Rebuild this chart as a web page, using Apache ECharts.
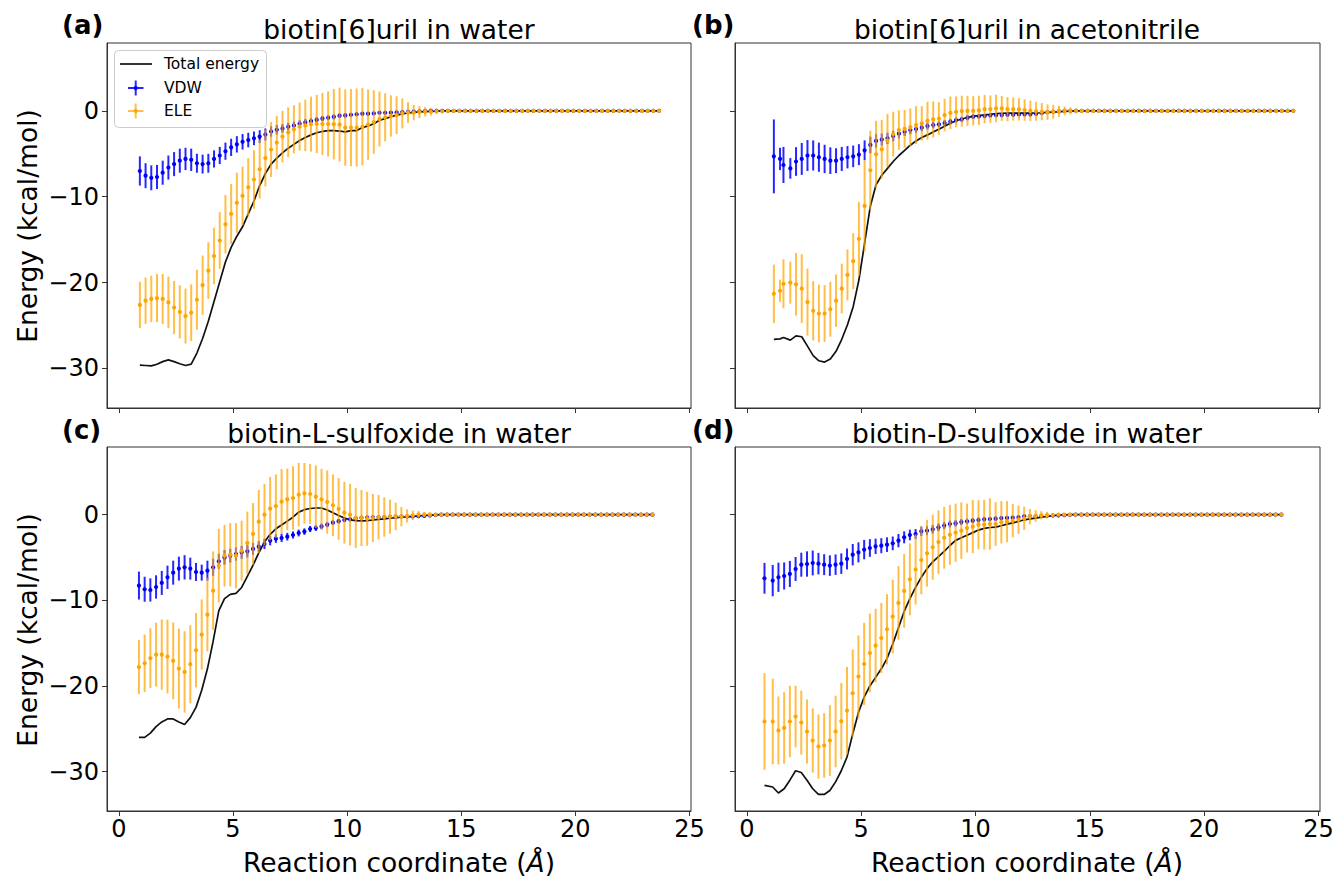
<!DOCTYPE html>
<html><head><meta charset="utf-8">
<script src="https://cdn.jsdelivr.net/npm/echarts@6/dist/echarts.min.js"></script>
<style>html,body{margin:0;padding:0;background:#fff}#c{width:1335px;height:877px}</style>
</head><body><div id="c"></div>
<script>
// ---------- categories / tick labels ----------
const panelTitles = ['biotin[6]uril in water','biotin[6]uril in acetonitrile','biotin-L-sulfoxide in water','biotin-D-sulfoxide in water'];
const panelTags = ['(a)','(b)','(c)','(d)'];
const xTicks = [0,5,10,15,20,25];
const yTicks = [-30,-20,-10,0];
const seriesNames = ['Total energy','VDW','ELE'];

// ---------- panel (a) ----------
const xA=[0.92,1.17,1.42,1.67,1.92,2.17,2.42,2.67,2.92,3.17,3.42,3.67,3.92,4.17,4.42,4.67,4.92,5.17,5.42,5.67,5.92,6.17,6.42,6.67,6.92,7.17,7.42,7.67,7.92,8.17,8.42,8.67,8.92,9.17,9.42,9.67,9.92,10.17,10.42,10.67,10.92,11.17,11.42,11.67,11.92,12.17,12.42,12.67,12.92,13.17,13.42,13.67,13.92,14.17,14.42,14.67,14.92,15.17,15.42,15.67,15.92,16.17,16.42,16.67,16.92,17.17,17.42,17.67,17.92,18.17,18.42,18.67,18.92,19.17,19.42,19.67,19.92,20.17,20.42,20.67,20.92,21.17,21.42,21.67,21.92,22.17,22.42,22.67,22.92,23.17,23.42,23.67];
const totA=[-29.6,-29.65,-29.7,-29.5,-29.2,-29.0,-29.2,-29.45,-29.65,-29.5,
-28.2,-26.5,-24.5,-22.2,-19.9,-17.6,-15.9,-14.6,-13.5,-12.0,
-10.5,-8.7,-7.3,-6.2,-5.5,-4.9,-4.35,-3.9,-3.45,-3.1,
-2.8,-2.55,-2.4,-2.3,-2.3,-2.35,-2.45,-2.3,-2.3,-1.95,
-1.75,-1.5,-1.1,-0.9,-0.68,-0.5,-0.35,-0.25,-0.18,-0.12,
-0.08,-0.05,-0.03,0,0,0,0,0,0,0,
0,0,0,0,0,0,0,0,0,0,
0,0,0,0,0,0,0,0,0,0,
0,0,0,0,0,0,0,0,0,0,
0,0];
const vdwA=[-7.0,-7.55,-7.8,-7.7,-7.2,-6.6,-6.2,-5.8,-5.6,-5.7,
-6.1,-6.2,-6.1,-5.6,-5.2,-4.7,-4.25,-3.9,-3.6,-3.4,
-3.2,-3.0,-2.75,-2.4,-2.2,-2.05,-1.85,-1.7,-1.5,-1.35,
-1.2,-1.05,-0.9,-0.8,-0.7,-0.56,-0.53,-0.45,-0.4,-0.33,
-0.33,-0.3,-0.22,-0.22,-0.2,-0.18,-0.15,-0.1,-0.08,-0.05,
-0.03,0,0,0,0,0,0,0,0,0,
0,0,0,0,0,0,0,0,0,0,
0,0,0,0,0,0,0,0,0,0,
0,0,0,0,0,0,0,0,0,0,
0,0];
const vdwErrA=[1.7,1.45,1.45,1.4,1.4,1.4,1.4,1.4,1.3,1.3,
1.1,1.1,1.1,1.0,1.0,1.0,1.0,0.95,0.9,0.85,
0.8,0.75,0.7,0.6,0.55,0.5,0.45,0.45,0.4,0.4,
0.35,0.35,0.3,0.3,0.3,0.25,0.25,0.2,0.2,0.2,
0.2,0.15,0.15,0.15,0.1,0.1,0.1,0.08,0.05,0.05,
0.03,0,0,0,0,0,0,0,0,0,
0,0,0,0,0,0,0,0,0,0,
0,0,0,0,0,0,0,0,0,0,
0,0,0,0,0,0,0,0,0,0,
0,0];
const eleA=[-22.6,-22.1,-21.9,-21.8,-21.9,-22.3,-22.9,-23.4,-23.9,-23.5,
-22.0,-20.3,-18.6,-16.9,-15.1,-13.2,-12.0,-10.7,-9.9,-8.9,
-8.0,-6.8,-5.5,-4.5,-3.7,-3.0,-2.5,-2.15,-1.84,-1.7,
-1.55,-1.53,-1.53,-1.53,-1.55,-1.6,-1.95,-1.95,-1.95,-1.85,
-1.6,-1.3,-0.95,-0.75,-0.6,-0.5,-0.3,-0.2,-0.2,-0.15,
-0.1,-0.1,-0.05,-0.05,0,0,0,0,0,0,
0,0,0,0,0,0,0,0,0,0,
0,0,0,0,0,0,0,0,0,0,
0,0,0,0,0,0,0,0,0,0,
0,0];
const eleErrA=[2.7,2.7,2.7,2.8,2.9,3.0,3.1,3.1,3.2,3.3,
3.5,3.45,3.3,3.3,3.3,3.4,3.5,3.5,3.4,3.4,
3.4,3.4,3.3,3.2,3.1,3.0,2.9,2.8,2.8,3.0,
3.2,3.4,3.6,3.8,4.1,4.3,4.45,4.5,4.55,4.5,
4.1,3.7,3.2,2.8,2.4,2.2,1.75,1.2,0.9,0.7,
0.55,0.45,0.33,0.23,0.12,0.05,0,0,0,0,
0,0,0,0,0,0,0,0,0,0,
0,0,0,0,0,0,0,0,0,0,
0,0,0,0,0,0,0,0,0,0,
0,0];

// ---------- panel (b) ----------
const xB=[1.18,1.45,1.6,1.9,2.15,2.4,2.65,2.9,3.15,3.4,3.65,3.9,4.15,4.4,4.65,4.9,5.15,5.4,5.65,5.9,6.15,6.4,6.65,6.9,7.15,7.4,7.65,7.9,8.15,8.4,8.65,8.9,9.15,9.4,9.65,9.9,10.15,10.4,10.65,10.9,11.15,11.4,11.65,11.9,12.15,12.4,12.65,12.9,13.15,13.4,13.65,13.9,14.15,14.4,14.65,14.9,15.15,15.4,15.65,15.9,16.15,16.4,16.65,16.9,17.15,17.4,17.65,17.9,18.15,18.4,18.65,18.9,19.15,19.4,19.65,19.9,20.15,20.4,20.65,20.9,21.15,21.4,21.65,21.9,22.15,22.4,22.65,22.9,23.15,23.4,23.65,23.9];
const totB=[-26.6,-26.55,-26.4,-26.7,-26.2,-26.3,-27.4,-28.5,-29.1,-29.25,
-28.9,-28.0,-26.6,-24.9,-22.8,-19.7,-15.4,-11.1,-8.6,-7.5,
-6.7,-5.9,-5.2,-4.6,-4.0,-3.5,-3.1,-2.8,-2.45,-2.15,
-1.8,-1.45,-1.15,-0.95,-0.78,-0.62,-0.55,-0.47,-0.4,-0.32,
-0.28,-0.26,-0.26,-0.26,-0.26,-0.26,-0.25,-0.22,-0.18,-0.14,
-0.1,-0.06,-0.03,0,0,0,0,0,0,0,
0,0,0,0,0,0,0,0,0,0,
0,0,0,0,0,0,0,0,0,0,
0,0,0,0,0,0,0,0,0,0,
0,0];
const vdwB=[-5.3,-5.6,-6.3,-6.7,-5.9,-5.6,-5.2,-5.2,-5.4,-5.6,
-5.8,-5.8,-5.6,-5.4,-5.3,-5.1,-4.6,-3.97,-3.5,-3.35,
-3.2,-2.93,-2.66,-2.43,-2.23,-2.12,-1.96,-1.77,-1.65,-1.57,
-1.42,-1.26,-1.07,-0.99,-0.8,-0.68,-0.64,-0.6,-0.53,-0.5,
-0.5,-0.45,-0.45,-0.42,-0.42,-0.42,-0.35,-0.25,-0.15,-0.1,
-0.05,0,0,0,0,0,0,0,0,0,
0,0,0,0,0,0,0,0,0,0,
0,0,0,0,0,0,0,0,0,0,
0,0,0,0,0,0,0,0,0,0,
0,0];
const vdwErrB=[4.3,1.3,2.1,1.2,1.67,1.86,1.8,1.75,1.7,1.65,
1.55,1.45,1.4,1.3,1.26,1.22,1.16,0.97,0.78,0.7,
0.65,0.6,0.55,0.5,0.5,0.45,0.4,0.4,0.38,0.35,
0.35,0.33,0.3,0.3,0.3,0.28,0.25,0.25,0.22,0.22,
0.2,0.2,0.2,0.18,0.18,0.15,0.12,0.1,0.08,0.05,
0.03,0,0,0,0,0,0,0,0,0,
0,0,0,0,0,0,0,0,0,0,
0,0,0,0,0,0,0,0,0,0,
0,0,0,0,0,0,0,0,0,0,
0,0];
const eleB=[-21.3,-20.95,-20.14,-20.0,-20.2,-20.7,-22.27,-23.28,-23.6,-23.6,
-23.1,-22.1,-20.7,-19.1,-17.5,-14.9,-11.07,-6.92,-5.06,-4.48,
-3.47,-2.7,-2.23,-2.1,-1.92,-1.65,-1.46,-1.15,-1.0,-0.89,
-0.5,-0.23,-0.12,-0.03,0,0,0.05,0.2,0.2,0.28,
0.28,0.2,0.2,0.17,0.1,0,-0.05,-0.1,-0.15,-0.1,
-0.05,0,0,0,0,0,0,0,0,0,
0,0,0,0,0,0,0,0,0,0,
0,0,0,0,0,0,0,0,0,0,
0,0,0,0,0,0,0,0,0,0,
0,0];
const eleErrB=[3.4,1.3,2.85,2.45,3.64,4.0,3.9,3.45,3.35,3.3,
3.2,3.05,2.9,2.97,3.26,4.3,5.3,4.6,3.9,3.4,
3.1,2.6,2.3,2.2,2.2,2.2,2.0,2.2,2.1,1.9,
1.9,1.9,1.8,1.8,1.75,1.7,1.7,1.65,1.6,1.6,
1.45,1.4,1.35,1.3,1.25,1.2,1.1,1.0,0.9,0.8,
0.65,0.5,0.4,0.3,0.2,0.1,0,0,0,0,
0,0,0,0,0,0,0,0,0,0,
0,0,0,0,0,0,0,0,0,0,
0,0,0,0,0,0,0,0,0,0,
0,0];

// ---------- panel (c) ----------
const xC=[0.88,1.13,1.38,1.63,1.88,2.13,2.38,2.63,2.88,3.13,3.38,3.63,3.88,4.13,4.38,4.63,4.88,5.13,5.38,5.63,5.88,6.13,6.38,6.63,6.88,7.13,7.38,7.63,7.88,8.13,8.38,8.63,8.88,9.13,9.38,9.63,9.88,10.13,10.38,10.63,10.88,11.13,11.38,11.63,11.88,12.13,12.38,12.63,12.88,13.13,13.38,13.63,13.88,14.13,14.38,14.63,14.88,15.13,15.38,15.63,15.88,16.13,16.38,16.63,16.88,17.13,17.38,17.63,17.88,18.13,18.38,18.63,18.88,19.13,19.38,19.63,19.88,20.13,20.38,20.63,20.88,21.13,21.38,21.63,21.88,22.13,22.38,22.63,22.88,23.13,23.38];
const totC=[-26.0,-26.0,-25.5,-24.75,-24.2,-23.85,-23.85,-24.2,-24.5,-23.7,
-22.5,-20.5,-18.0,-14.8,-11.2,-9.8,-9.3,-9.2,-8.5,-7.2,
-5.9,-4.45,-3.2,-2.3,-1.65,-1.2,-0.75,-0.3,0.3,0.58,
0.72,0.78,0.78,0.55,0.22,-0.1,-0.4,-0.6,-0.7,-0.72,
-0.7,-0.62,-0.55,-0.5,-0.42,-0.36,-0.3,-0.25,-0.2,-0.15,
-0.1,-0.06,-0.03,0,0,0,0,0,0,0,
0,0,0,0,0,0,0,0,0,0,
0,0,0,0,0,0,0,0,0,0,
0,0,0,0,0,0,0,0,0,0,
0];
const vdwC=[-8.28,-8.71,-8.79,-8.44,-7.97,-7.31,-6.77,-6.3,-6.15,-6.3,
-6.69,-6.77,-6.54,-6.15,-5.44,-4.98,-4.78,-4.59,-4.4,-4.28,
-4.0,-3.74,-3.42,-3.03,-2.8,-2.72,-2.57,-2.37,-2.14,-1.98,
-1.67,-1.56,-1.37,-1.17,-0.93,-0.76,-0.62,-0.54,-0.43,-0.36,
-0.33,-0.32,-0.3,-0.29,-0.26,-0.23,-0.21,-0.2,-0.2,-0.18,
-0.15,-0.08,-0.03,0,0,0,0,0,0,0,
0,0,0,0,0,0,0,0,0,0,
0,0,0,0,0,0,0,0,0,0,
0,0,0,0,0,0,0,0,0,0,
0];
const vdwErrC=[1.63,1.46,1.36,1.36,1.4,1.36,1.4,1.4,1.42,1.28,
1.05,0.93,1.17,1.0,0.87,0.86,0.8,0.78,0.75,0.72,
0.7,0.65,0.6,0.55,0.5,0.48,0.45,0.42,0.4,0.38,
0.36,0.34,0.32,0.3,0.28,0.26,0.25,0.24,0.22,0.2,
0.2,0.18,0.17,0.16,0.15,0.14,0.12,0.1,0.08,0.06,
0.05,0.03,0.02,0,0,0,0,0,0,0,
0,0,0,0,0,0,0,0,0,0,
0,0,0,0,0,0,0,0,0,0,
0,0,0,0,0,0,0,0,0,0,
0];
const eleC=[-17.8,-17.35,-16.76,-16.34,-16.34,-16.57,-17.07,-17.97,-18.36,-17.46,
-15.83,-14.0,-11.67,-8.87,-5.95,-4.79,-4.67,-4.79,-4.2,-3.3,
-2.25,-0.82,0.0,0.7,1.0,1.52,1.79,1.95,2.33,2.49,
2.41,2.1,1.79,1.48,1.1,0.68,0.23,0.0,-0.39,-0.39,
-0.47,-0.39,-0.3,-0.27,-0.23,-0.2,-0.23,-0.15,-0.08,0,
0,0,0,0,0,0,0,0,0,0,
0,0,0,0,0,0,0,0,0,0,
0,0,0,0,0,0,0,0,0,0,
0,0,0,0,0,0,0,0,0,0,
0];
const eleErrC=[3.15,3.36,3.5,3.73,4.1,4.3,4.47,4.67,4.75,4.57,
4.34,4.1,4.3,4.57,4.3,3.6,3.7,3.8,3.5,3.66,
3.6,3.7,3.6,3.7,3.7,3.8,3.6,3.7,3.7,3.54,
3.5,3.64,3.56,3.7,3.6,3.6,3.6,3.6,3.5,3.27,
3.15,2.8,2.6,2.3,2.0,1.6,1.13,0.78,0.55,0.43,
0.33,0.25,0.2,0.1,0,0,0,0,0,0,
0,0,0,0,0,0,0,0,0,0,
0,0,0,0,0,0,0,0,0,0,
0,0,0,0,0,0,0,0,0,0,
0];

// ---------- panel (d) ----------
const xD=[0.77,1.13,1.38,1.63,1.88,2.13,2.38,2.63,2.88,3.13,3.38,3.63,3.88,4.13,4.38,4.63,4.88,5.13,5.38,5.63,5.88,6.13,6.38,6.63,6.88,7.13,7.38,7.63,7.88,8.13,8.38,8.63,8.88,9.13,9.38,9.63,9.88,10.13,10.38,10.63,10.88,11.13,11.38,11.63,11.88,12.13,12.38,12.63,12.88,13.13,13.38,13.63,13.88,14.13,14.38,14.63,14.88,15.13,15.38,15.63,15.88,16.13,16.38,16.63,16.88,17.13,17.38,17.63,17.88,18.13,18.38,18.63,18.88,19.13,19.38,19.63,19.88,20.13,20.38,20.63,20.88,21.13,21.38,21.63,21.88,22.13,22.38,22.63,22.88,23.13,23.38];
const totD=[-31.6,-31.8,-32.5,-32.0,-31.0,-29.9,-30.1,-31.0,-32.0,-32.67,
-32.67,-32.2,-31.2,-29.9,-28.3,-25.6,-23.1,-21.3,-20.0,-19.0,
-18.0,-16.8,-15.1,-13.2,-11.3,-9.8,-8.5,-7.3,-6.3,-5.5,
-4.9,-4.3,-3.6,-3.0,-2.7,-2.4,-2.1,-1.8,-1.6,-1.5,
-1.45,-1.3,-1.1,-0.95,-0.8,-0.6,-0.5,-0.4,-0.3,-0.2,
-0.12,-0.06,-0.02,0,0,0,0,0,0,0,
0,0,0,0,0,0,0,0,0,0,
0,0,0,0,0,0,0,0,0,0,
0,0,0,0,0,0,0,0,0,0,
0];
const vdwD=[-7.43,-7.7,-7.31,-7.16,-6.92,-6.34,-5.84,-5.76,-5.64,-5.72,
-5.84,-5.95,-5.84,-5.72,-5.17,-4.67,-4.4,-4.08,-3.89,-3.7,
-3.62,-3.5,-3.35,-3.03,-2.65,-2.37,-2.26,-1.95,-1.87,-1.71,
-1.48,-1.28,-1.09,-1.01,-0.86,-0.78,-0.7,-0.62,-0.54,-0.51,
-0.47,-0.4,-0.38,-0.35,-0.3,-0.2,-0.2,-0.18,-0.15,-0.12,
-0.1,-0.08,-0.05,-0.02,0,0,0,0,0,0,
0,0,0,0,0,0,0,0,0,0,
0,0,0,0,0,0,0,0,0,0,
0,0,0,0,0,0,0,0,0,0,
0];
const vdwErrD=[1.8,1.83,1.71,1.58,1.52,1.4,1.4,1.48,1.45,1.26,
1.22,1.2,1.2,1.2,1.22,1.25,1.17,1.13,1.03,0.9,
0.88,0.85,0.8,0.78,0.7,0.62,0.58,0.55,0.52,0.5,
0.45,0.42,0.4,0.38,0.35,0.33,0.3,0.3,0.28,0.26,
0.25,0.24,0.22,0.2,0.18,0.16,0.14,0.12,0.1,0.08,
0.06,0.04,0.03,0.02,0,0,0,0,0,0,
0,0,0,0,0,0,0,0,0,0,
0,0,0,0,0,0,0,0,0,0,
0,0,0,0,0,0,0,0,0,0,
0];
const eleD=[-24.15,-24.15,-25.2,-24.9,-24.15,-23.57,-24.27,-25.32,-26.37,-27.07,
-26.95,-26.37,-25.32,-24.12,-22.87,-20.85,-18.9,-17.43,-16.15,-15.29,
-14.4,-13.38,-11.9,-10.3,-8.9,-7.55,-6.4,-5.3,-4.5,-3.8,
-3.2,-2.7,-2.35,-2.1,-1.87,-1.56,-1.4,-1.17,-1.17,-1.09,
-1.09,-0.89,-0.82,-0.7,-0.58,-0.43,-0.23,-0.16,-0.08,-0.06,
-0.04,0,0,0,0,0,0,0,0,0,
0,0,0,0,0,0,0,0,0,0,
0,0,0,0,0,0,0,0,0,0,
0,0,0,0,0,0,0,0,0,0,
0];
const eleErrD=[5.64,5.0,3.97,4.18,4.18,3.6,3.74,3.75,3.75,3.75,
3.77,4.12,4.18,4.47,5.1,5.1,4.8,4.8,4.6,4.3,
4.1,4.1,4.3,4.3,4.3,4.2,4.1,4.0,3.9,3.8,
3.7,3.6,3.5,3.4,3.3,2.86,3.1,2.86,2.9,3.0,
2.57,2.47,2.4,1.95,1.65,1.36,0.9,0.68,0.49,0.39,
0.25,0.2,0.1,0.05,0,0,0,0,0,0,
0,0,0,0,0,0,0,0,0,0,
0,0,0,0,0,0,0,0,0,0,
0,0,0,0,0,0,0,0,0,0,
0];

// ---------- build ----------
const FONT = '"DejaVu Sans", "Liberation Sans", sans-serif';
const panels = [
  {x:xA, tot:totA, vdw:vdwA, vdwErr:vdwErrA, ele:eleA, eleErr:eleErrA},
  {x:xB, tot:totB, vdw:vdwB, vdwErr:vdwErrB, ele:eleB, eleErr:eleErrB},
  {x:xC, tot:totC, vdw:vdwC, vdwErr:vdwErrC, ele:eleC, eleErr:eleErrC},
  {x:xD, tot:totD, vdw:vdwD, vdwErr:vdwErrD, ele:eleD, eleErr:eleErrD}
];
const gridBoxes = [
  {left:107, top:43, width:584, height:365},
  {left:735, top:43, width:585, height:365},
  {left:107, top:447, width:584, height:364},
  {left:735, top:447, width:585, height:364}
];
const AX = '#333';
const minusFmt = v => (v < 0 ? '\u2212' + Math.abs(v) : String(v));

function errRender(barColor, dotColor){
  return function(params, api){
    const x = api.value(0), y = api.value(1), e = api.value(2);
    const p = api.coord([x, y]);
    const t = api.coord([x, y + e]);
    const b = api.coord([x, y - e]);
    return {type:'group', children:[
      {type:'line', shape:{x1:p[0], y1:t[1], x2:p[0], y2:b[1]}, style:{stroke:barColor, lineWidth:2}},
      {type:'circle', shape:{cx:p[0], cy:p[1], r:2.1}, style:{fill:dotColor}}
    ]};
  };
}

const grid = [], xAxis = [], yAxis = [], series = [];
panels.forEach((P, i) => {
  grid.push(Object.assign({show:true, borderColor:AX, borderWidth:1, backgroundColor:'#fff', outerBoundsMode:'none', containLabel:false}, gridBoxes[i]));
  xAxis.push({type:'value', gridIndex:i, min:-0.52, max:25.07,
    axisLine:{show:true, onZero:false, lineStyle:{color:AX, width:1}},
    axisTick:{show:true, customValues:xTicks, length:5, lineStyle:{color:AX, width:1}},
    axisLabel:{show:i>=2, customValues:xTicks, fontSize:24, color:'#000', fontFamily:FONT, margin:6},
    splitLine:{show:false}});
  yAxis.push({type:'value', gridIndex:i, min:-34.6, max:7.9,
    axisLine:{show:true, onZero:false, lineStyle:{color:AX, width:1}},
    axisTick:{show:true, customValues:yTicks, length:5, lineStyle:{color:AX, width:1}},
    axisLabel:{show:i%2===0, customValues:yTicks, fontSize:24, color:'#000', fontFamily:FONT, margin:8, formatter:minusFmt},
    splitLine:{show:false}});
  series.push({type:'line', name:seriesNames[0], xAxisIndex:i, yAxisIndex:i, z:2, silent:true,
    symbol:'none', showSymbol:false, lineStyle:{color:'#111', width:1.7},
    data:P.x.map((v,j)=>[v, P.tot[j]])});
  series.push({type:'custom', name:seriesNames[1], xAxisIndex:i, yAxisIndex:i, z:3, silent:true,
    encode:{x:0, y:1}, renderItem:errRender('rgba(0,0,255,0.85)', '#0000ff'),
    data:P.x.map((v,j)=>[v, P.vdw[j], P.vdwErr[j]])});
  series.push({type:'custom', name:seriesNames[2], xAxisIndex:i, yAxisIndex:i, z:4, silent:true,
    encode:{x:0, y:1}, renderItem:errRender('rgba(255,165,0,0.72)', '#ffa500'),
    data:P.x.map((v,j)=>[v, P.ele[j], P.eleErr[j]])});
});

const graphic = [];
const txt = (x, y, text, font, align, extra) => Object.assign({type:'text', x:x, y:y, z:100,
  style:{text:text, font:font, fill:'#000', textAlign:align||'center', textVerticalAlign:'middle', verticalAlign:'middle'}}, extra||{});
const titlePos = [[399,29],[1027,29],[399,433],[1027,433]];
const tagPos = [[62,25],[692,25],[62,430],[692,430]];
panels.forEach((P,i) => {
  graphic.push(txt(titlePos[i][0], titlePos[i][1], panelTitles[i], '26.5px ' + FONT));
  graphic.push(txt(tagPos[i][0], tagPos[i][1], panelTags[i], 'bold 26px ' + FONT, 'left'));
});
// axis titles
[[27,226],[27,630]].forEach(p => graphic.push(txt(p[0], p[1], 'Energy (kcal/mol)', '26.5px ' + FONT, 'center', {rotation:Math.PI/2})));
[399,1027].forEach(cx => graphic.push({type:'text', x:cx, y:862, z:100, style:{
  text:'{n|Reaction coordinate (}{i|Å}{n|)}', textAlign:'center', textVerticalAlign:'middle', verticalAlign:'middle',
  rich:{n:{fontSize:26.5, fontFamily:FONT, fill:'#000', color:'#000'}, i:{fontSize:26.5, fontFamily:FONT, fontStyle:'italic', fill:'#000', color:'#000'}}}}));
// legend (panel a)
graphic.push({type:'rect', z:90, shape:{x:114.5, y:50.5, width:152, height:77, r:4}, style:{fill:'rgba(255,255,255,0.8)', stroke:'#cccccc', lineWidth:1}});
graphic.push({type:'line', z:91, shape:{x1:120, y1:64, x2:152, y2:64}, style:{stroke:'#111', lineWidth:1.7}});
[[88,'rgba(0,0,255,0.85)','#0000ff'],[111,'rgba(255,165,0,0.72)','#ffa500']].forEach(r => {
  graphic.push({type:'line', z:91, shape:{x1:128, y1:r[0], x2:143.5, y2:r[0]}, style:{stroke:r[1], lineWidth:2}});
  graphic.push({type:'line', z:91, shape:{x1:135.7, y1:r[0]-7.5, x2:135.7, y2:r[0]+7.5}, style:{stroke:r[1], lineWidth:2}});
  graphic.push({type:'circle', z:92, shape:{cx:135.7, cy:r[0], r:2.1}, style:{fill:r[2]}});
});
graphic.push(txt(164, 64, seriesNames[0], '15.5px ' + FONT, 'left'));
graphic.push(txt(164, 88, seriesNames[1], '15.5px ' + FONT, 'left'));
graphic.push(txt(164, 111, seriesNames[2], '15.5px ' + FONT, 'left'));

const chart = echarts.init(document.getElementById('c'), null, {renderer:'svg'});
chart.setOption({animation:false, backgroundColor:'#fff', grid, xAxis, yAxis, series, graphic});
</script>
</body></html>
